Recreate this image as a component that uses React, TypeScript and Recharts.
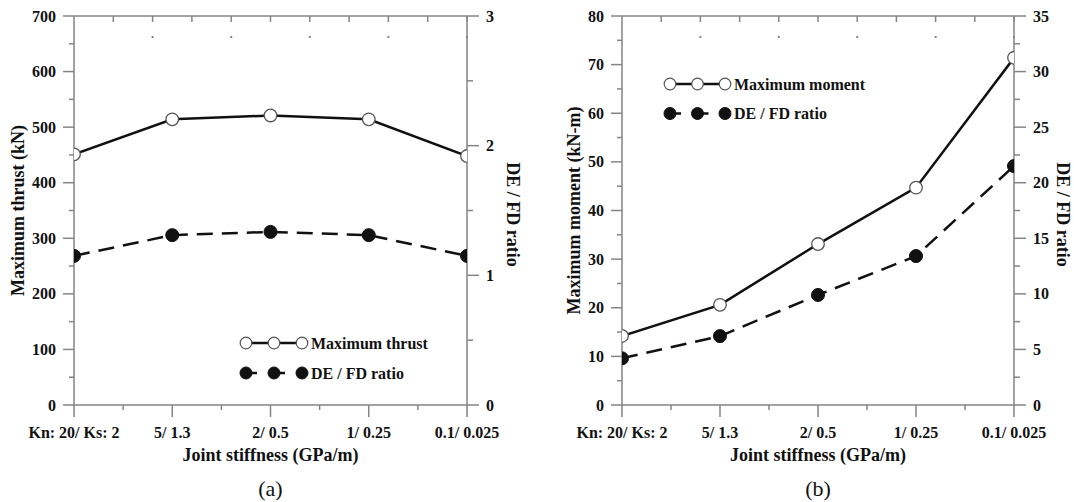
import React from 'react';
import { LineChart, Line, XAxis, YAxis, Legend, Label } from 'recharts';

// ---------- data ----------
const categories = ['Kn: 20/ Ks: 2', '5/ 1.3', '2/ 0.5', '1/ 0.25', '0.1/ 0.025'];
const thrust = [451, 514, 521, 514, 448];
const ratioA = [1.15, 1.31, 1.335, 1.31, 1.15];
const moment = [14.2, 20.6, 33.1, 44.7, 71.4];
const ratioB = [4.2, 6.2, 9.9, 13.4, 21.5];

const namesA = ['Maximum thrust', 'DE / FD ratio'];
const namesB = ['Maximum moment', 'DE / FD ratio'];

const xTicks = [0, 0.5, 1, 1.5, 2, 2.5, 3, 3.5, 4];
const topTicks = [0.4, 0.8, 1.2, 1.6, 2, 2.4, 2.8, 3.2, 3.6, 4];
const thrustTicks = [0, 50, 100, 150, 200, 250, 300, 350, 400, 450, 500, 550, 600, 650, 700];
const ratioATicks = [0, 0.5, 1, 1.5, 2, 2.5, 3];
const momentTicks = [0, 5, 10, 15, 20, 25, 30, 35, 40, 45, 50, 55, 60, 65, 70, 75, 80];
const ratioBTicks = [0, 2.5, 5, 7.5, 10, 12.5, 15, 17.5, 20, 22.5, 25, 27.5, 30, 32.5, 35];

const dataA = categories.map((c, i) => ({ x: i, main: thrust[i], ratio: ratioA[i] }));
const dataB = categories.map((c, i) => ({ x: i, main: moment[i], ratio: ratioB[i] }));

// ---------- styles ----------
const FONT = '"Liberation Serif", "Times New Roman", serif';
const AXIS = '#858585';
const INK = '#111';

const isMajor = (v: number, step: number) => Math.abs(v / step - Math.round(v / step)) < 1e-6;

const LeftTick = (step: number) => (p: any) => {
  const { x, y, payload } = p;
  const v = payload.value;
  const major = isMajor(v, step);
  return (
    <g>
      <line x1={x - (major ? 11 : 5)} x2={x} y1={y} y2={y} stroke={AXIS} strokeWidth={1.5} />
      {major && (
        <text x={x - 18} y={y} textAnchor="end" dominantBaseline="central" fontFamily={FONT} fontWeight="bold" fontSize={16} fill={INK}>
          {v}
        </text>
      )}
    </g>
  );
};

const RightTick = (step: number) => (p: any) => {
  const { x, y, payload } = p;
  const v = payload.value;
  const major = isMajor(v, step);
  return (
    <g>
      <line x1={x} x2={x + (major ? 12 : 6)} y1={y} y2={y} stroke={AXIS} strokeWidth={1.5} />
      {major && (
        <text x={x + 19} y={y} textAnchor="start" dominantBaseline="central" fontFamily={FONT} fontWeight="bold" fontSize={16} fill={INK}>
          {v}
        </text>
      )}
    </g>
  );
};

const BottomTick = (p: any) => {
  const { x, y, payload } = p;
  const v = payload.value;
  const major = Number.isInteger(v);
  return (
    <g>
      <line x1={x} x2={x} y1={y} y2={y + (major ? 12 : 5)} stroke={AXIS} strokeWidth={1.5} />
      {major && (
        <text x={x} y={y + 27} textAnchor="middle" dominantBaseline="central" fontFamily={FONT} fontWeight="bold" fontSize={16} fill={INK}>
          {categories[v]}
        </text>
      )}
    </g>
  );
};

const TopTick = (p: any) => {
  const { x, y, index } = p;
  return (
    <g>
      <line x1={x} x2={x} y1={y} y2={y + 6} stroke={AXIS} strokeWidth={1.5} />
      {index % 2 === 1 && <rect x={x - 1} y={y + 20} width={2} height={2} fill={AXIS} />}
    </g>
  );
};

const leftTitle = (text: string, gap: number) => (p: any) => {
  const vb = p.viewBox || {};
  const cx = vb.x + vb.width - gap;
  const cy = vb.y + vb.height / 2;
  return (
    <text x={cx} y={cy} transform={`rotate(-90 ${cx} ${cy})`} textAnchor="middle" dominantBaseline="central" fontFamily={FONT} fontWeight="bold" fontSize={18} fill={INK}>
      {text}
    </text>
  );
};

const rightTitle = (text: string, gap: number) => (p: any) => {
  const vb = p.viewBox || {};
  const cx = vb.x + gap;
  const cy = vb.y + vb.height / 2 + 4;
  return (
    <text x={cx} y={cy} transform={`rotate(90 ${cx} ${cy})`} textAnchor="middle" dominantBaseline="central" fontFamily={FONT} fontWeight="bold" fontSize={18} fill={INK}>
      {text}
    </text>
  );
};

const bottomTitle = (text: string, tag: string) => (p: any) => {
  const vb = p.viewBox || {};
  const cx = vb.x + vb.width / 2;
  return (
    <g>
      <text x={cx} y={vb.y + 50} textAnchor="middle" dominantBaseline="central" fontFamily={FONT} fontWeight="bold" fontSize={18} fill={INK}>
        {text}
      </text>
      <text x={cx} y={vb.y + 83} textAnchor="middle" dominantBaseline="central" fontFamily={FONT} fontSize={22} fill={INK}>
        {tag}
      </text>
    </g>
  );
};

const makeLegend = (names: string[], spacing: number, rowGap: number) => (props: any) => {
  const payload: any[] = props.payload || [];
  const items = names.map((n, i) => {
    const found = payload.find((e: any) => e && e.value === n);
    return { value: found ? found.value : n, dashed: i === 1 };
  });
  const xs = [8, 8 + spacing, 8 + 2 * spacing];
  return (
    <svg width={230} height={70} style={{ display: 'block', overflow: 'visible' }}>
      {items.map((entry, i) => {
        const y = 15 + rowGap * i;
        const dashed = entry.dashed;
        return (
          <g key={i}>
            <line
              x1={xs[0]}
              x2={xs[2]}
              y1={y}
              y2={y}
              stroke={INK}
              strokeWidth={2.5}
              strokeDasharray={dashed ? `11 ${spacing - 11}` : undefined}
            />
            {xs.map((cx, k) =>
              dashed ? (
                <circle key={k} cx={cx} cy={y} r={6} fill={INK} stroke={INK} />
              ) : (
                <circle key={k} cx={cx} cy={y} r={5.8} fill="#fff" stroke="#555" strokeWidth={1.2} />
              )
            )}
            <text x={xs[2] + 9} y={y} dominantBaseline="central" fontFamily={FONT} fontWeight="bold" fontSize={16} fill={INK}>
              {entry.value}
            </text>
          </g>
        );
      })}
    </svg>
  );
};

type PanelProps = {
  data: any[];
  names: string[];
  leftDomain: number[];
  leftTicks: number[];
  leftStep: number;
  rightDomain: number[];
  rightTicks: number[];
  rightStep: number;
  leftWidth: number;
  rightWidth: number;
  leftLabel: string;
  leftGap: number;
  rightGap: number;
  tag: string;
  legendPos: { left: number; top: number };
  legendSpacing: number;
  legendRowGap: number;
};

const Panel = (p: PanelProps) => (
  <LineChart width={537} height={502} data={p.data} margin={{ top: 10, right: 0, bottom: 0, left: 0 }}>
    <XAxis
      dataKey="x"
      type="number"
      domain={[0, 4]}
      ticks={xTicks}
      interval={0}
      allowDataOverflow
      height={97}
      tickSize={0}
      tickMargin={0}
      tickLine={false}
      axisLine={{ stroke: AXIS, strokeWidth: 1.5 }}
      tick={BottomTick}
    >
      <Label content={bottomTitle('Joint stiffness (GPa/m)', p.tag)} />
    </XAxis>
    <XAxis
      xAxisId="top"
      orientation="top"
      type="number"
      domain={[0, 4]}
      ticks={topTicks}
      interval={0}
      allowDataOverflow
      height={6}
      tickSize={0}
      tickMargin={0}
      tickLine={false}
      axisLine={{ stroke: AXIS, strokeWidth: 1.5 }}
      tick={TopTick}
    />
    <YAxis
      yAxisId="left"
      orientation="left"
      type="number"
      domain={p.leftDomain}
      ticks={p.leftTicks}
      interval={0}
      allowDataOverflow
      width={p.leftWidth}
      tickSize={0}
      tickMargin={0}
      tickLine={false}
      axisLine={{ stroke: AXIS, strokeWidth: 1.5 }}
      tick={LeftTick(p.leftStep)}
    >
      <Label content={leftTitle(p.leftLabel, p.leftGap)} />
    </YAxis>
    <YAxis
      yAxisId="right"
      orientation="right"
      type="number"
      domain={p.rightDomain}
      ticks={p.rightTicks}
      interval={0}
      allowDataOverflow
      width={p.rightWidth}
      tickSize={0}
      tickMargin={0}
      tickLine={false}
      axisLine={{ stroke: AXIS, strokeWidth: 1.5 }}
      tick={RightTick(p.rightStep)}
    >
      <Label content={rightTitle('DE / FD ratio', p.rightGap)} />
    </YAxis>
    <Legend
      layout="vertical"
      align="center"
      verticalAlign="middle"
      wrapperStyle={{ left: p.legendPos.left, top: p.legendPos.top, width: 230, height: 70, margin: 0, padding: 0 }}
      content={makeLegend(p.names, p.legendSpacing, p.legendRowGap)}
    />
    <Line
      yAxisId="left"
      name={p.names[0]}
      dataKey="main"
      type="linear"
      stroke={INK}
      strokeWidth={2.5}
      dot={{ r: 6.3, fill: '#fff', stroke: '#555', strokeWidth: 1.3 }}
      activeDot={false}
      isAnimationActive={false}
    />
    <Line
      yAxisId="right"
      name={p.names[1]}
      dataKey="ratio"
      type="linear"
      stroke={INK}
      strokeWidth={2.5}
      strokeDasharray="16 9"
      dot={{ r: 6.5, fill: INK, stroke: INK, strokeWidth: 1, strokeDasharray: '' }}
      activeDot={false}
      isAnimationActive={false}
    />
  </LineChart>
);

export default function App() {
  return (
    <div style={{ position: 'absolute', left: 0, top: 0, width: 1074, height: 502, background: '#fff', overflow: 'hidden' }}>
      <div style={{ position: 'absolute', left: 0, top: 0 }}>
        <Panel
          data={dataA}
          names={namesA}
          leftDomain={[0, 700]}
          leftTicks={thrustTicks}
          leftStep={100}
          rightDomain={[0, 3]}
          rightTicks={ratioATicks}
          rightStep={1}
          leftWidth={74}
          rightWidth={70}
          leftLabel="Maximum thrust (kN)"
          leftGap={56}
          rightGap={46}
          tag="(a)"
          legendPos={{ left: 238, top: 328 }}
          legendSpacing={28}
          legendRowGap={30}
        />
      </div>
      <div style={{ position: 'absolute', left: 537, top: 0 }}>
        <Panel
          data={dataB}
          names={namesB}
          leftDomain={[0, 80]}
          leftTicks={momentTicks}
          leftStep={10}
          rightDomain={[0, 35]}
          rightTicks={ratioBTicks}
          rightStep={5}
          leftWidth={85}
          rightWidth={60}
          leftLabel="Maximum moment (kN-m)"
          leftGap={48}
          rightGap={49}
          tag="(b)"
          legendPos={{ left: 125, top: 69 }}
          legendSpacing={27.5}
          legendRowGap={29.5}
        />
      </div>
    </div>
  );
}
